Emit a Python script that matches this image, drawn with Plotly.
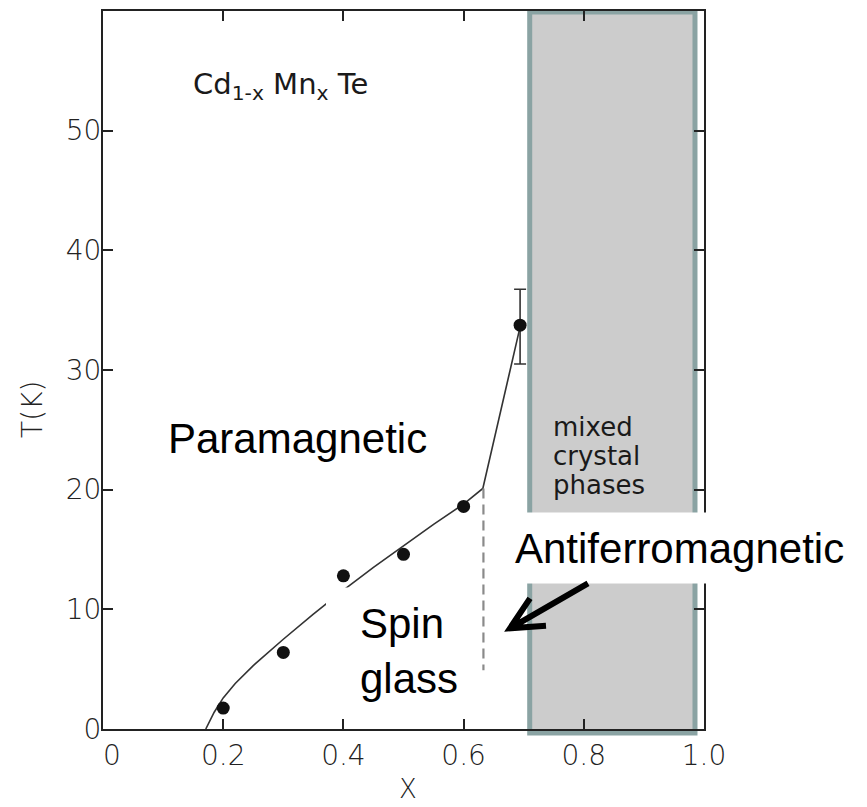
import plotly.graph_objects as go

# ---------------- data ----------------
x_points = [0.2, 0.3, 0.4, 0.5, 0.6, 0.694]
t_points = [1.75, 6.4, 12.8, 14.6, 18.6, 33.75]
err_plus = [0, 0, 0, 0, 0, 3.0]
err_minus = [0, 0, 0, 0, 0, 3.25]

# phase boundary line
x_curve = [0.171, 0.185, 0.20, 0.22, 0.25, 0.30, 0.35, 0.40, 0.45, 0.50, 0.55, 0.60, 0.632, 0.694]
t_curve = [0.0, 1.4, 2.6, 3.8, 5.3, 7.5, 9.6, 11.6, 13.5, 15.3, 17.1, 18.8, 20.1, 33.6]

x_dash = [0.633, 0.633]
t_dash = [20.1, 4.9]

mixed_x0, mixed_x1 = 0.71, 0.985

x_ticks = [0, 0.2, 0.4, 0.6, 0.8, 1.0]
x_ticktext = ["\u00a0\u00a00", "0.2", "0.4", "0.6", "0.8", "1.0"]
y_ticks = [0, 10, 20, 30, 40, 50]
y_ticktext = ["0", "10", "20", "30", "40", "50"]

# ---------------- layout geometry ----------------
W, H = 867, 807
L, R, T, B = 103, 704, 9, 729


def px(xp):
    return (xp - L) / (R - L)


def py(yp):
    return (B - yp) / (B - T)


scan_font = dict(family="DejaVu Sans", size=28, color="#222222", weight=300)
scan_text = dict(family="DejaVu Sans", size=26, color="#1a1a1a")
label_font = dict(family="Liberation Sans, Arial", size=42, color="#000000")

fig = go.Figure()

fig.add_trace(go.Scatter(
    x=x_curve, y=t_curve, mode="lines",
    line=dict(color="#333333", width=1.6), hoverinfo="skip"))

fig.add_trace(go.Scatter(
    x=x_dash, y=t_dash, mode="lines",
    line=dict(color="#8a8a8a", width=2.2, dash="10px,6px"), hoverinfo="skip"))

fig.add_trace(go.Scatter(
    x=x_points, y=t_points, mode="markers",
    marker=dict(color="#111111", size=13),
    error_y=dict(type="data", symmetric=False, array=err_plus, arrayminus=err_minus,
                 color="#333333", thickness=1.6, width=6)))

shapes = [
    # mixed crystal phases region
    dict(type="rect", xref="x", yref="paper", x0=mixed_x0, x1=mixed_x1,
         y0=py(733), y1=py(10), fillcolor="#cccccc",
         line=dict(color="#8aa3a3", width=5), layer="below"),
    # white label backgrounds
    dict(type="rect", xref="paper", yref="paper", x0=px(506), x1=px(862),
         y0=py(583), y1=py(512), fillcolor="white", line=dict(width=0), layer="above"),
    dict(type="rect", xref="paper", yref="paper", x0=px(326), x1=px(470),
         y0=py(712), y1=py(587), fillcolor="white", line=dict(width=0), layer="above"),
]

# arrow
tail, tip, b1, b2 = (588, 583), (510, 628), (530, 598), (546, 625.5)
path = (f"M{px(tail[0])},{py(tail[1])} L{px(tip[0])},{py(tip[1])} "
        f"M{px(b1[0])},{py(b1[1])} L{px(tip[0])},{py(tip[1])} L{px(b2[0])},{py(b2[1])}")
shapes.append(dict(type="path", xref="paper", yref="paper", path=path,
                   line=dict(color="black", width=6), layer="above"))

annotations = [
    dict(text="Cd<sub>1-x</sub> Mn<sub>x</sub> Te", x=px(191), y=py(84), xref="paper", yref="paper",
         xanchor="left", yanchor="middle", showarrow=False,
         font=dict(family="DejaVu Sans", size=29, color="#1a1a1a")),
    dict(text="Paramagnetic", x=px(166), y=py(438), xref="paper", yref="paper",
         xanchor="left", yanchor="middle", showarrow=False, font=label_font),
    dict(text="Antiferromagnetic", x=px(513), y=py(548), xref="paper", yref="paper",
         xanchor="left", yanchor="middle", showarrow=False, font=label_font),
    dict(text="Spin<br>glass", x=px(358), y=py(651), xref="paper", yref="paper",
         xanchor="left", yanchor="middle", align="left", showarrow=False, font=label_font),
    dict(text="mixed", x=px(551), y=py(426), xref="paper", yref="paper",
         xanchor="left", yanchor="middle", showarrow=False, font=scan_text),
    dict(text="crystal", x=px(551), y=py(455), xref="paper", yref="paper",
         xanchor="left", yanchor="middle", showarrow=False, font=scan_text),
    dict(text="phases", x=px(551), y=py(484), xref="paper", yref="paper",
         xanchor="left", yanchor="middle", showarrow=False, font=scan_text),
    dict(text="T(K)", x=px(33), y=py(409), xref="paper", yref="paper",
         xanchor="center", yanchor="middle", textangle=-90, showarrow=False, font=scan_font),
    dict(text="X", x=px(408), y=py(789), xref="paper", yref="paper",
         xanchor="center", yanchor="middle", showarrow=False,
         font=dict(family="DejaVu Sans", size=26, color="#222222", weight=300)),
]

axis_common = dict(
    ticks="inside", ticklen=10, tickwidth=2, tickcolor="#222222",
    showline=True, linewidth=2, linecolor="#222222", mirror="ticks",
    showgrid=False, zeroline=False, tickfont=scan_font,
)

fig.update_layout(
    width=W, height=H,
    margin=dict(l=L, r=W - R, t=T, b=H - B),
    paper_bgcolor="white", plot_bgcolor="white",
    showlegend=False,
    xaxis=dict(range=[0, 1.0], tickvals=x_ticks, ticktext=x_ticktext, **axis_common),
    yaxis=dict(range=[0, 60], tickvals=y_ticks, ticktext=y_ticktext,
               ticklabelstandoff=-6, **axis_common),
    shapes=shapes,
    annotations=annotations,
)

fig.write_html("out.html")
